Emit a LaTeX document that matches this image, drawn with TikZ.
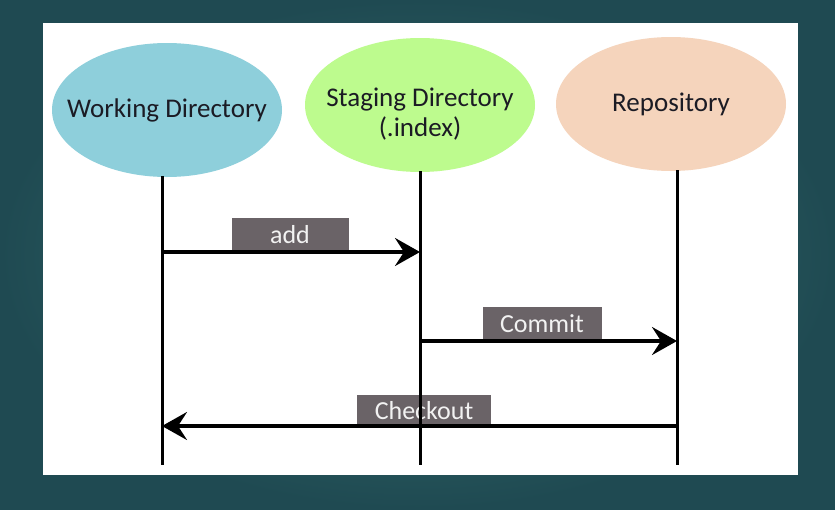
\documentclass[tikz,border=0pt]{standalone}
\usepackage{fontspec}
\setmainfont{Carlito}
\usepackage{xcolor}
\usetikzlibrary{calc,positioning,arrows.meta,shapes.geometric}
\definecolor{gtback}{HTML}{3A7471}
\definecolor{gtedge}{HTML}{1F4A52}
\definecolor{gtwork}{HTML}{8ECFDB}
\definecolor{gtstage}{HTML}{BDFB8E}
\definecolor{gtrepo}{HTML}{F5D4BC}
\definecolor{gttag}{HTML}{6A6367}
\definecolor{gtink}{HTML}{1B1B24}
\begin{document}
\begin{tikzpicture}[x=1pt,y=-1pt,
  area/.style={ellipse,minimum width=230pt,minimum height=134pt,inner xsep=-40pt,inner ysep=0pt,align=center,
  font=\fontsize{27}{30}\selectfont,text=gtink},
  tag/.style={fill=gttag,text=white!90!gray,minimum height=34pt,inner sep=0pt,anchor=south,
  font=\fontsize{26}{28}\selectfont},
  life/.style={line width=3pt,black},
  flow/.style={line width=3.4pt,black,-{Stealth[length=25pt,width=28pt,inset=9pt]}}]
\useasboundingbox (0,0) rectangle (835,509);
\shade[inner color=gtback,outer color=gtedge] (0,0) rectangle (835,509);
\fill[white] (43,23) rectangle (798,475);
% the three areas
\node[area,fill=gtwork] (work) at (167,110) {Working Directory};
\node[area,fill=gtstage,label={[font=\fontsize{27}{30}\selectfont,text=gtink,align=center,yshift=-9pt]center:Staging Directory\\(.index)}] (stage) at (420,105) {};
\node[area,fill=gtrepo] (repo) at (671,104) {Repository};
% levels
\coordinate (wtop) at (162,176);\coordinate (stop) at (420,171);\coordinate (rtop) at (677,170);
\coordinate (yadd) at (0,252);\coordinate (ycom) at (0,341);\coordinate (ycho) at (0,426);\coordinate (yend) at (0,465);
% labels
\node[tag,minimum width=117pt] (addTag) at (290,252) {add};
\node[tag,minimum width=119pt] (comTag) at (542,341) {Commit};
\node[tag,minimum width=134pt,minimum height=31pt] (choTag) at (424,426) {Checkout};
% lifelines
\draw[life] (wtop) -- (wtop |- yend);\draw[life] (stop) -- (stop |- yend);\draw[life] (rtop) -- (rtop |- yend);
% commands
\draw[flow] (wtop |- yadd) -- (stop |- yadd);
\draw[flow] (stop |- ycom) -- (rtop |- ycom);
\draw[flow] (rtop |- ycho) -- (wtop |- ycho);
\end{tikzpicture}
\end{document}
